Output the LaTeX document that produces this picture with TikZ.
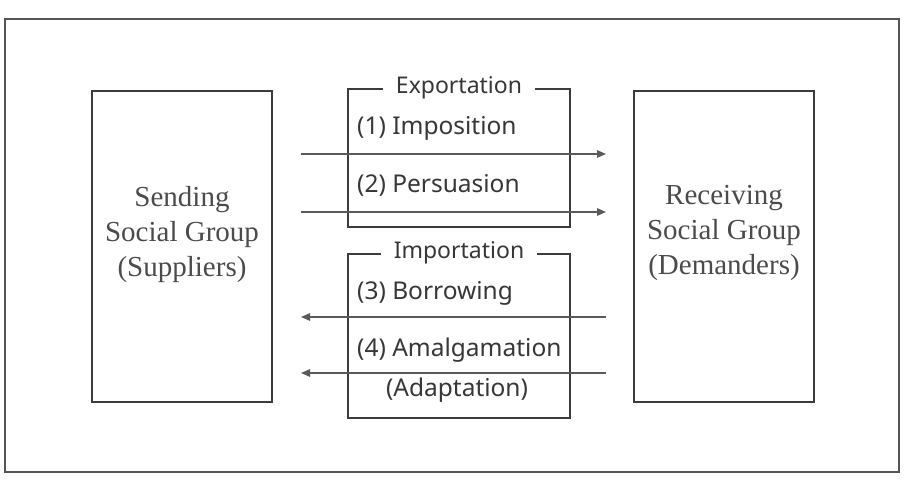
\documentclass[tikz,border=0pt]{standalone}
\usepackage{fontspec}
\setmainfont{Liberation Serif}
\newfontfamily\gothic{Noto Sans}
\usepackage{tikz}
\usetikzlibrary{arrows.meta,positioning}
\definecolor{framegray}{RGB}{85,85,85}
\definecolor{linegray}{RGB}{60,60,60}
\definecolor{textgray}{RGB}{55,55,55}
\definecolor{serifgray}{RGB}{75,75,75}
\definecolor{arrowgray}{RGB}{90,90,90}

\begin{document}
\begin{tikzpicture}[
    x=1pt, y=1pt,
    group/.style={draw=linegray, line width=2pt, minimum width=180pt, minimum height=311pt},
    grouptext/.style={align=center, text=serifgray, font=\fontsize{29}{35}\selectfont},
    stage/.style={draw=linegray, line width=2.2pt, minimum width=222pt, minimum height=#1},
    title/.style={fill=white, inner xsep=13pt, inner ysep=1pt, text=textgray, font=\gothic\fontsize{23}{27}\selectfont},
    item/.style={anchor=west, inner sep=0pt, text=textgray, font=\gothic\fontsize{24.5}{29}\selectfont},
    flow/.style={draw=arrowgray, line width=1.3pt, -{Triangle[length=9pt,width=7.5pt]}},
]
\useasboundingbox (0,0) rectangle (907,479);
\draw[framegray, line width=2pt] (5,7) rectangle (899,460);

\node[group] (send) at (182,232.5) {};
\node[grouptext] (sendtxt) at ([yshift=12pt]send.center) {Sending\\Social Group\\(Suppliers)};
\node[group] (recv) at (724,232.5) {};
\node[grouptext] (recvtxt) at ([yshift=14pt]recv.center) {Receiving\\Social Group\\(Demanders)};

\node[stage=138pt] (export) at (459,321) {};
\node[title] (exporttitle) at (export.north) {Exportation};
\node[stage=164pt] (import) at (459,143) {};
\node[title] (importtitle) at (import.north) {Importation};

\node[item] (imposition) at (357,351) {(1) Imposition};
\node[item] (persuasion) at (357,294) {(2) Persuasion};
\node[item] (borrowing) at (357,186) {(3) Borrowing};
\node[item] (amalgam) at (357,129) {(4) Amalgamation};
\node[item, anchor=center] (adapt) at (457,89) {(Adaptation)};

\draw[flow, shorten <=28pt, shorten >=27pt] ([yshift=92.5pt]send.east) -- ([yshift=92.5pt]recv.west);
\draw[flow, shorten <=28pt, shorten >=27pt] ([yshift=34.5pt]send.east) -- ([yshift=34.5pt]recv.west);
\draw[flow, shorten <=27pt, shorten >=28pt] ([yshift=-70.5pt]recv.west) -- ([yshift=-70.5pt]send.east);
\draw[flow, shorten <=27pt, shorten >=28pt] ([yshift=-126.5pt]recv.west) -- ([yshift=-126.5pt]send.east);
\end{tikzpicture}
\end{document}
